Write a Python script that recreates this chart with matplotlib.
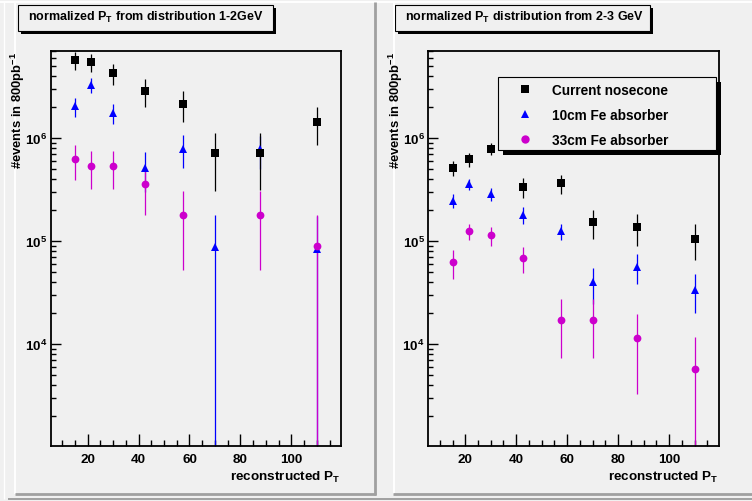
import numpy as np
import matplotlib
matplotlib.use("Agg")
import matplotlib.pyplot as plt
from matplotlib.lines import Line2D
from matplotlib.patches import Rectangle
from matplotlib.ticker import FixedLocator, MultipleLocator, LogLocator, NullFormatter

plt.rcParams['font.family'] = ['Liberation Sans', 'DejaVu Sans']
plt.rcParams['font.weight'] = 'bold'
plt.rcParams['mathtext.fontset'] = 'custom'
plt.rcParams['mathtext.rm'] = 'Liberation Sans:bold'
plt.rcParams['mathtext.bf'] = 'Liberation Sans:bold'
plt.rcParams['mathtext.it'] = 'Liberation Sans:bold'

# ---------------- data ----------------
pt = [15, 21.5, 30, 42.5, 57.5, 70, 87.5, 110]

series_labels = ["Current nosecone", "10cm Fe absorber", "33cm Fe absorber"]

# left panel: 1-2 GeV
nose_12 = [5.75e6, 5.5e6, 4.3e6, 2.88e6, 2.15e6, 7.2e5, 7.25e5, 1.44e6]
nose_12_err = [1.1e6, 1.1e6, 1.0e6, 0.85e6, 0.72e6, 0.41e6, 0.41e6, 0.58e6]
fe10_12 = [2.05e6, 3.29e6, 1.77e6, 5.2e5, 7.9e5, 8.9e4, 7.8e5, 8.5e4]
fe10_12_err = [0.43e6, 0.55e6, 0.4e6, 0.22e6, 0.28e6, 9.2e4, 0.28e6, 9.0e4]
fe33_12 = [6.3e5, 5.4e5, 5.4e5, 3.6e5, 1.8e5, np.nan, 1.8e5, 9.0e4]
fe33_12_err = [2.4e5, 2.2e5, 2.2e5, 1.8e5, 1.27e5, np.nan, 1.27e5, 9.2e4]

# right panel: 2-3 GeV
nose_23 = [5.15e5, 6.25e5, 7.95e5, 3.35e5, 3.65e5, 1.53e5, 1.38e5, 1.06e5]
nose_23_err = [0.88e5, 1.0e5, 1.05e5, 0.73e5, 0.75e5, 0.48e5, 0.47e5, 0.4e5]
fe10_23 = [2.48e5, 3.6e5, 2.88e5, 1.81e5, 1.25e5, 4.0e4, 5.66e4, 3.4e4]
fe10_23_err = [0.38e5, 0.46e5, 0.4e5, 0.34e5, 0.23e5, 1.55e4, 1.8e4, 1.4e4]
fe33_23 = [6.3e4, 1.26e5, 1.15e5, 6.9e4, 1.73e4, 1.73e4, 1.15e4, 5.8e3]
fe33_23_err = [2.0e4, 2.3e4, 2.4e4, 2.0e4, 1.0e4, 1.0e4, 8.2e3, 5.9e3]

titles = [r"normalized P$_{\mathrm{T}}$ from distribution 1-2GeV",
          r"normalized P$_{\mathrm{T}}$ distribution from 2-3 GeV"]
xlabel = r"reconstructed P$_{\mathrm{T}}$"
ylabel = r"#events in 800pb$^{\mathrm{-1}}$"
xticks = [20, 40, 60, 80, 100]
yticks = [1e4, 1e5, 1e6]
ytick_labels = [r"$10^{4}$", r"$10^{5}$", r"$10^{6}$"]

# ---------------- styles ----------------
W, H = 752, 502
BG = '#f0f0f0'
styles = [dict(marker='s', color='black'),
          dict(marker='^', color='#0000ff'),
          dict(marker='o', color='#cc00cc')]
FS = 9.7

fig = plt.figure(figsize=(W / 100, H / 100), dpi=100, facecolor=BG)


def fx(x):
    return x / W


def fy(y):
    return 1 - y / H


def hline(x0, x1, y, color, lw):
    fig.add_artist(Line2D([fx(x0), fx(x1)], [fy(y), fy(y)], color=color, lw=lw,
                          transform=fig.transFigure, solid_capstyle='butt'))


def vline(x, y0, y1, color, lw):
    fig.add_artist(Line2D([fx(x), fx(x)], [fy(y0), fy(y1)], color=color, lw=lw,
                          transform=fig.transFigure, solid_capstyle='butt'))


DARK = '#a0a0a0'
# canvas / pad bevels
hline(0, W, 3, 'white', 1.4)
vline(3.5, 3, 500, 'white', 1.0)
hline(8, W, 500, DARK, 1.4)
# left pad
vline(15, 3, 495, 'white', 1.4)
hline(15, 376, 495, DARK, 2.0)
vline(375, 3, 496, DARK, 2.0)
# right pad
vline(393.5, 3, 495, 'white', 1.4)
hline(393, W, 495, DARK, 2.0)

axes_px = [(50.7, 341.0), (428.3, 718.7)]
top_px, bot_px = 52.0, 447.0
ylim = (1030, 7.05e6)
xlim = (5.5, 119.5)

panels = [
    [(fe10_12, fe10_12_err, 1), (fe33_12, fe33_12_err, 2), (nose_12, nose_12_err, 0)],
    [(fe10_23, fe10_23_err, 1), (fe33_23, fe33_23_err, 2), (nose_23, nose_23_err, 0)],
]

for i, (x0, x1) in enumerate(axes_px):
    ax = fig.add_axes([fx(x0), fy(bot_px), (x1 - x0) / W, (bot_px - top_px) / H])
    ax.set_facecolor(BG)
    ax.set_yscale('log')
    for vals, errs, k in panels[i]:
        st = styles[k]
        ax.errorbar(pt, vals, yerr=errs, fmt=st['marker'], color=st['color'],
                    ecolor=st['color'], markersize=5.6, elinewidth=0.9,
                    capsize=2.0, capthick=0.9, linestyle='none', markeredgewidth=0)
    ax.set_xlim(*xlim)
    ax.set_ylim(*ylim)
    ax.xaxis.set_major_locator(FixedLocator(xticks))
    ax.xaxis.set_minor_locator(MultipleLocator(5))
    ax.yaxis.set_major_locator(FixedLocator(yticks))
    ax.set_yticklabels(ytick_labels)
    ax.yaxis.set_minor_locator(LogLocator(base=10, subs=np.arange(2, 10)))
    ax.yaxis.set_minor_formatter(NullFormatter())
    ax.tick_params(axis='x', which='major', direction='in', length=8.6, width=1.0,
                   labelsize=FS, pad=5)
    ax.tick_params(axis='x', which='minor', direction='in', length=4.3, width=1.0)
    ax.tick_params(axis='y', which='major', direction='in', length=7.2, width=1.0,
                   labelsize=FS, pad=2.5)
    ax.tick_params(axis='y', which='minor', direction='in', length=3.6, width=1.0)
    for sp in ax.spines.values():
        sp.set_linewidth(1.3)
    # axis titles (ROOT style: right/top aligned)
    fig.text(fx(x1), fy(477), xlabel, ha='right', va='center', fontsize=FS,
             fontweight='bold')
    fig.text(fx(x0 - 32.5), fy(top_px), ylabel, ha='center', va='top',
             rotation=90, fontsize=9.4, fontweight='bold')
    # title box with shadow
    bx0 = 18.3 if i == 0 else 395.3
    bx1 = bx0 + 254.5
    by0, by1 = 5.7, 31.7
    fig.add_artist(Rectangle((fx(bx0 + 3), fy(by1 + 3)), (bx1 - bx0) / W, (by1 - by0) / H,
                             transform=fig.transFigure, facecolor='black',
                             edgecolor='none'))
    fig.add_artist(Rectangle((fx(bx0), fy(by1)), (bx1 - bx0) / W, (by1 - by0) / H,
                             transform=fig.transFigure, facecolor=BG,
                             edgecolor='black', lw=0.8))
    fig.text(fx(bx0 + 10), fy(17.5), titles[i], ha='left', va='center',
             fontsize=9.0, fontweight='bold')

# legend on the right panel
lx0, lx1, ly0, ly1 = 497.5, 715.5, 77.5, 151.0
fig.add_artist(Rectangle((fx(lx0 + 5), fy(ly1 + 5)), (lx1 - lx0) / W, (ly1 - ly0) / H,
                         transform=fig.transFigure, facecolor='black', edgecolor='none'))
fig.add_artist(Rectangle((fx(lx0), fy(ly1)), (lx1 - lx0) / W, (ly1 - ly0) / H,
                         transform=fig.transFigure, facecolor=BG, edgecolor='black', lw=0.8))
handles = [Line2D([], [], linestyle='none', marker=s['marker'], color=s['color'],
                  markersize=6.0, markeredgewidth=0) for s in styles]
leg = fig.legend(handles, series_labels, loc='upper left',
                 bbox_to_anchor=(fx(511.4), fy(83.5)), bbox_transform=fig.transFigure,
                 frameon=False, borderpad=0, borderaxespad=0, handlelength=2.0,
                 handletextpad=0.96, labelspacing=0.82,
                 prop=dict(family='Liberation Sans', weight='bold', size=9.8))

fig.savefig('out.png', dpi=100, facecolor=BG)
